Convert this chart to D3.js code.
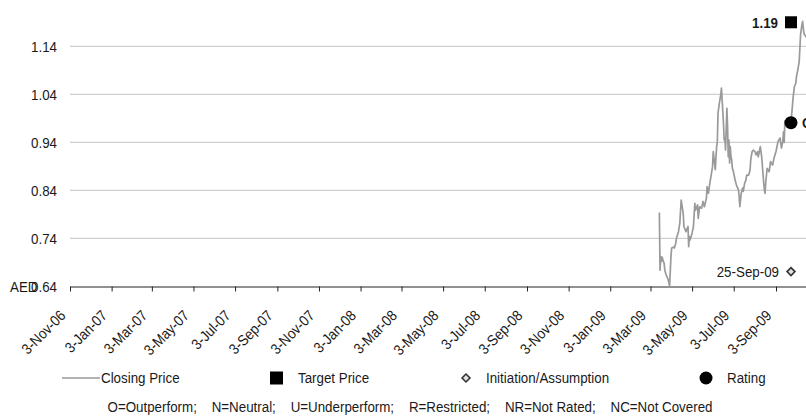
<!DOCTYPE html>
<html>
<head>
<meta charset="utf-8">
<script src="https://cdn.jsdelivr.net/npm/d3@7"></script>
<style>
  html, body { margin: 0; padding: 0; background: #fff; }
  svg { display: block; }
  text { font-family: "Liberation Sans", Arial, sans-serif; fill: #1a1a1a; }
</style>
</head>
<body>
<svg id="chart" width="806" height="419"></svg>
<script>
// ---------- data ----------
const tickLabels = ["3-Nov-06","3-Jan-07","3-Mar-07","3-May-07","3-Jul-07","3-Sep-07","3-Nov-07",
  "3-Jan-08","3-Mar-08","3-May-08","3-Jul-08","3-Sep-08","3-Nov-08","3-Jan-09","3-Mar-09",
  "3-May-09","3-Jul-09","3-Sep-09"];
const yTickValues = [0.64, 0.74, 0.84, 0.94, 1.04, 1.14];
const yTickLabels = ["0.64", "0.74", "0.84", "0.94", "1.04", "1.14"];
const currencyLabel = "AED";

const priceDates = [
  "2009-03-16","2009-03-17","2009-03-18","2009-03-19","2009-03-20","2009-03-23","2009-03-24","2009-03-26",
  "2009-03-29","2009-03-31","2009-04-02","2009-04-03","2009-04-06","2009-04-07","2009-04-09","2009-04-10",
  "2009-04-13","2009-04-15","2009-04-17","2009-04-20","2009-04-21","2009-04-23","2009-04-24","2009-04-27",
  "2009-04-28","2009-04-29","2009-04-30","2009-05-03","2009-05-05","2009-05-07","2009-05-08","2009-05-11",
  "2009-05-12","2009-05-14","2009-05-17","2009-05-19","2009-05-21","2009-05-24","2009-05-25","2009-05-27",
  "2009-05-29","2009-05-31","2009-06-02","2009-06-03","2009-06-06","2009-06-07","2009-06-08","2009-06-09",
  "2009-06-10","2009-06-12","2009-06-14","2009-06-15","2009-06-16","2009-06-18","2009-06-19","2009-06-20",
  "2009-06-21","2009-06-23","2009-06-24","2009-06-25","2009-06-26","2009-06-27","2009-06-28","2009-06-29",
  "2009-06-30","2009-07-01","2009-07-02","2009-07-05","2009-07-07","2009-07-10","2009-07-11","2009-07-12",
  "2009-07-14","2009-07-16","2009-07-17","2009-07-19","2009-07-21","2009-07-22","2009-07-25","2009-07-27",
  "2009-07-28","2009-07-30","2009-08-01","2009-08-03","2009-08-05","2009-08-07","2009-08-08","2009-08-11",
  "2009-08-13","2009-08-16","2009-08-17","2009-08-18","2009-08-19","2009-08-21","2009-08-24","2009-08-26",
  "2009-08-29","2009-08-31","2009-09-03","2009-09-05","2009-09-06","2009-09-09","2009-09-11","2009-09-13",
  "2009-09-14","2009-09-15","2009-09-16","2009-09-17","2009-09-20","2009-09-23","2009-09-25","2009-09-28",
  "2009-09-30","2009-10-02","2009-10-03","2009-10-05","2009-10-07","2009-10-08","2009-10-09","2009-10-11",
  "2009-10-12","2009-10-13","2009-10-14","2009-10-15","2009-10-18"
];
const priceValues = [
  0.794,0.674,0.702,0.692,0.701,0.688,0.674,0.664,
  0.654,0.641,0.702,0.720,0.722,0.720,0.730,0.740,
  0.754,0.772,0.820,0.792,0.765,0.758,0.754,0.765,
  0.723,0.744,0.737,0.751,0.765,0.813,0.799,0.810,
  0.782,0.806,0.803,0.817,0.806,0.824,0.848,0.834,
  0.855,0.872,0.890,0.921,0.883,0.910,0.931,0.942,
  1.001,1.022,1.039,1.053,1.029,0.980,0.945,0.949,
  0.924,1.011,0.973,0.910,0.945,0.897,0.931,0.910,
  0.904,0.886,0.883,0.862,0.851,0.841,0.827,0.806,
  0.834,0.845,0.838,0.855,0.862,0.872,0.872,0.883,
  0.904,0.921,0.924,0.921,0.914,0.921,0.910,0.931,
  0.910,0.855,0.841,0.834,0.858,0.886,0.879,0.900,
  0.893,0.907,0.921,0.935,0.942,0.949,0.928,0.942,
  0.962,0.940,0.985,0.975,0.978,0.982,0.981,1.032,
  1.056,1.063,1.077,1.091,1.108,1.136,1.164,1.185,
  1.192,1.178,1.167,1.164,1.158
];

const targetDates = ["2009-09-25"];
const targetValues = [1.19];
const targetLabels = ["1.19"];

const ratingDates = ["2009-09-25"];
const ratingValues = [0.981];
const ratingLabels = ["O"];

const initiationDates = ["2009-09-25"];
const initiationValues = [0.671];
const initiationLabels = ["25-Sep-09"];

const legendLabels = ["Closing Price", "Target Price", "Initiation/Assumption", "Rating"];
const footnote = "O=Outperform;    N=Neutral;    U=Underperform;    R=Restricted;    NR=Not Rated;    NC=Not Covered";

// ---------- layout ----------
const W = 806, H = 419;
const SX = 0.89;        // horizontal squeeze of the lettering
const FS = "15px";
const svg = d3.select("#chart");
const parseTick = d3.utcParse("%d-%b-%y");
const parseISO = d3.utcParse("%Y-%m-%d");
const tickDates = tickLabels.map(parseTick);

const x = d3.scaleUtc()
  .domain([tickDates[0], tickDates[tickDates.length - 1]])
  .range([70, 776]);
const y = d3.scaleLinear()
  .domain([0.64, 1.14])
  .range([286.5, 46.3]);

const plotLeft = 70, plotRight = W + 20;
const axisY = y(0.64);

function label(parent, px, py, str, anchor, bold) {
  const g = parent.append("g").attr("transform", `translate(${px},${py}) scale(${SX},1)`);
  g.append("text")
    .attr("dy", "0.36em")
    .attr("text-anchor", anchor || "start")
    .style("font-size", FS)
    .style("font-weight", bold ? "bold" : "normal")
    .attr("xml:space", "preserve")
    .style("white-space", "pre")
    .text(str);
  return g;
}

// gridlines
svg.append("g").selectAll("line")
  .data(yTickValues.filter(v => v > 0.64))
  .join("line")
  .attr("x1", plotLeft).attr("x2", plotRight)
  .attr("y1", d => y(d)).attr("y2", d => y(d))
  .attr("stroke", "#cfcfcf").attr("stroke-width", 1.3);

// y labels
const gy = svg.append("g");
yTickValues.forEach((v, i) => label(gy, 57, y(v), yTickLabels[i], "end"));
label(svg, 10, axisY, currencyLabel, "start");

// x axis
const xAxis = d3.axisBottom(x)
  .tickValues(tickDates)
  .tickSize(5)
  .tickSizeOuter(0)
  .tickFormat((d, i) => tickLabels[i]);
const gx = svg.append("g").attr("transform", `translate(0,${axisY})`).call(xAxis);
gx.attr("font-family", null).attr("font-size", null);
gx.select(".domain").attr("d", `M${plotLeft},0.5H${plotRight}`).attr("stroke", "#222");
gx.selectAll(".tick line").attr("stroke", "#222");
gx.selectAll(".tick text")
  .attr("y", 0).attr("dy", 0)
  .attr("transform", `translate(-4,30) rotate(-45) scale(${SX},1)`)
  .attr("text-anchor", "end")
  .style("font-size", FS)
  .attr("fill", "#1a1a1a");

// price line
const priceData = priceDates.map((d, i) => ({ date: parseISO(d), value: priceValues[i] }));
const line = d3.line().x(d => x(d.date)).y(d => y(d.value));
svg.append("path")
  .datum(priceData)
  .attr("d", line)
  .attr("fill", "none")
  .attr("stroke", "#9a9a9a")
  .attr("stroke-width", 1.7)
  .attr("stroke-linejoin", "round");

// target price
targetDates.forEach((d, i) => {
  const cx = x(parseISO(d)), cy = y(targetValues[i]);
  svg.append("rect").attr("x", cx - 6).attr("y", cy - 6).attr("width", 12).attr("height", 12).attr("fill", "#000");
  label(svg, cx - 13, cy, targetLabels[i], "end", true);
});

// rating
ratingDates.forEach((d, i) => {
  const cx = x(parseISO(d)), cy = y(ratingValues[i]);
  svg.append("circle").attr("cx", cx).attr("cy", cy).attr("r", 6.5).attr("fill", "#000");
  label(svg, cx + 11, cy, ratingLabels[i], "start", true);
});

// initiation
const diamond = d3.symbol().type(d3.symbolDiamond2).size(40);
initiationDates.forEach((d, i) => {
  const cx = x(parseISO(d)), cy = y(initiationValues[i]);
  svg.append("path").attr("d", diamond).attr("transform", `translate(${cx},${cy})`)
    .attr("fill", "#e0e0e0").attr("stroke", "#333").attr("stroke-width", 1.6);
  label(svg, cx - 12, cy, initiationLabels[i], "end");
});

// legend
const legY = 378;
const lg = svg.append("g");
lg.append("line").attr("x1", 62).attr("x2", 100).attr("y1", legY).attr("y2", legY)
  .attr("stroke", "#999").attr("stroke-width", 1.3);
label(lg, 101, legY, legendLabels[0]);
lg.append("rect").attr("x", 270).attr("y", legY - 6.5).attr("width", 13).attr("height", 13).attr("fill", "#000");
label(lg, 298, legY, legendLabels[1]);
lg.append("path").attr("d", diamond).attr("transform", `translate(466,${legY})`)
  .attr("fill", "#e0e0e0").attr("stroke", "#333").attr("stroke-width", 1.6);
label(lg, 486, legY, legendLabels[2]);
lg.append("circle").attr("cx", 706).attr("cy", legY).attr("r", 6.5).attr("fill", "#000");
label(lg, 727, legY, legendLabels[3]);

// footnote
label(svg, 410, 407, footnote, "middle");
</script>
</body>
</html>
